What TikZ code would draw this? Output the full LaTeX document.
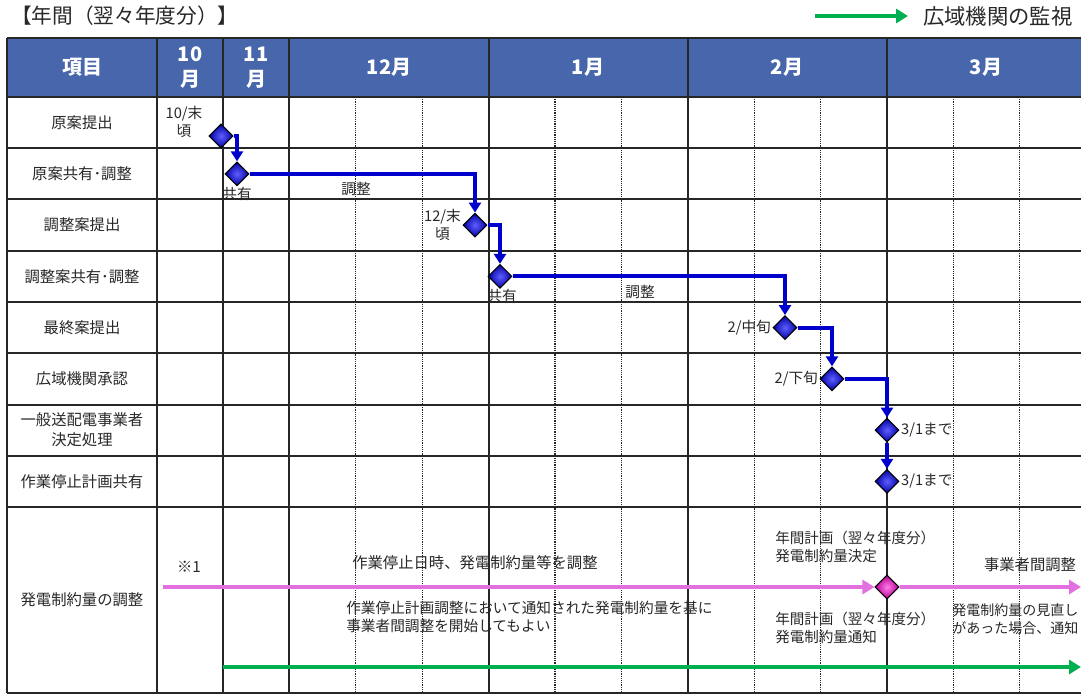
\documentclass[tikz,border=0pt]{standalone}
\usepackage{fontspec}
\setmainfont{Noto Sans CJK JP}
\usetikzlibrary{arrows.meta,shapes.geometric}
\definecolor{hdrblue}{RGB}{72,102,172}
\definecolor{flowblue}{RGB}{0,0,205}
\definecolor{msin}{RGB}{95,95,255}
\definecolor{msout}{RGB}{0,0,165}
\definecolor{pinkline}{RGB}{226,112,222}
\definecolor{pkin}{RGB}{255,125,235}
\definecolor{pkout}{RGB}{180,0,145}
\definecolor{grn}{RGB}{0,176,80}
\definecolor{txt}{RGB}{40,40,40}
\tikzset{
  gridl/.style={line width=1.5pt, draw=black!85},
  dotl/.style={line width=0.9pt, draw=black!85, dash pattern=on 0.9pt off 0.75pt},
  hdr/.style={text=white, font=\fontsize{15}{18.5}\selectfont\bfseries, align=center, inner sep=0pt},
  rowlab/.style={text=txt, font=\fontsize{11.5}{15}\selectfont, align=center, inner sep=0pt},
  lab/.style={text=txt, font=\fontsize{11}{14}\selectfont, align=center, inner sep=1pt},
  note/.style={text=txt, font=\fontsize{11.5}{14}\selectfont, align=left, inner sep=0pt},
  ms/.style={diamond, draw=black, line width=0.8pt, minimum width=18pt, minimum height=18pt, inner sep=0pt, inner color=msin, outer color=msout},
  pms/.style={diamond, draw=black, line width=0.8pt, minimum width=18pt, minimum height=18pt, inner sep=0pt, inner color=pkin, outer color=pkout},
  flow/.style={draw=flowblue, line width=3pt, -{Triangle[length=7.5pt,width=9pt]}},
  pinkflow/.style={draw=pinkline, line width=3pt, -{Triangle[length=9pt,width=10.5pt]}},
  greenflow/.style={draw=grn, line width=3pt, -{Triangle[length=9pt,width=10.5pt]}},
}
\begin{document}
\begin{tikzpicture}[x=0.75pt,y=-0.75pt]
\useasboundingbox (0,0) rectangle (1081,695);
\fill[white] (0,0) rectangle (1081,695);

% title and legend
\node[anchor=west, text=txt, font=\fontsize{15.5}{18}\selectfont, inner sep=0pt] (title) at (11,16) {【年間（翌々年度分）】};
\node[anchor=west, text=txt, font=\fontsize{16}{19}\selectfont, inner sep=0pt] (legtxt) at (923,16) {広域機関の監視};
\coordinate (lga) at (815,16);
\coordinate (lgb) at (908,16);
\draw[greenflow] (lga) -- (lgb);

% header band
\fill[hdrblue] (7,38) rectangle (1081,97);
\node[hdr] (h0) at (82,67.5) {項目};
\node[hdr] (h1) at (190,67.5) {10\\月};
\node[hdr] (h2) at (256,67.5) {11\\月};
\node[hdr] (h3) at (389,67.5) {12月};
\node[hdr] (h4) at (588,67.5) {1月};
\node[hdr] (h5) at (787,67.5) {2月};
\node[hdr] (h6) at (986,67.5) {3月};

% grid
\foreach \x in {355.8,422.2,555,621.4,754.2,820.6,953.4,1019.8}
  \draw[dotl] (\x,97) -- (\x,693);
\foreach \y in {38,97,148.25,199.5,250.75,302,353.25,404.5,455.75,507,693}
  \draw[gridl] (7,\y) -- (1081,\y);
\foreach \x in {7,156.6,223,289.4,488.6,687.8,887}
  \draw[gridl] (\x,38) -- (\x,693);

% row labels
\node[rowlab] (r1) at (82,122.6) {原案提出};
\node[rowlab] (r2) at (82,173.9) {原案共有･調整};
\node[rowlab] (r3) at (82,225.1) {調整案提出};
\node[rowlab] (r4) at (82,276.4) {調整案共有･調整};
\node[rowlab] (r5) at (82,327.6) {最終案提出};
\node[rowlab] (r6) at (82,378.9) {広域機関承認};
\node[rowlab] (r7) at (82,430.1) {一般送配電事業者\\決定処理};
\node[rowlab] (r8) at (82,481.4) {作業停止計画共有};
\node[rowlab] (r9) at (82,600) {発電制約量の調整};

% milestones
\node[ms] (d1) at (221,136) {};
\node[ms] (d2) at (237,173.9) {};
\node[ms] (d3) at (475,225.1) {};
\node[ms] (d4) at (500,276.4) {};
\node[ms] (d5) at (785,327.6) {};
\node[ms] (d6) at (832,378.9) {};
\node[ms] (d7) at (887,430.1) {};
\node[ms] (d8) at (887,481.4) {};

\draw[flow] (d1.east) -| (d2.north);
\draw[flow] (d2.east) -| (d3.north);
\draw[flow] (d3.east) -| (d4.north);
\draw[flow] (d4.east) -| (d5.north);
\draw[flow] (d5.east) -| (d6.north);
\draw[flow] (d6.east) -| (d7.north);
\draw[flow] (d7.south) -- (d8.north);

% milestone labels
\node[lab] (l1) at (184,122) {10/末\\頃};
\node[lab] (l2) at (237,194) {共有};
\node[lab] (l3) at (356,189) {調整};
\node[lab, anchor=east] (l4) at (d3.west) {12/末\\頃};
\node[lab] (l5) at (502,296) {共有};
\node[lab] (l6) at (640,292) {調整};
\node[lab, anchor=east] (l7) at (d5.west) {2/中旬};
\node[lab, anchor=east] (l8) at (d6.west) {2/下旬};
\node[lab, anchor=west] (l9) at (d7.east) {3/1まで};
\node[lab, anchor=west] (l10) at (d8.east) {3/1まで};

% generation constraint row
\node[pms] (pd) at (887,587) {};
\coordinate (ps) at (163,587);
\coordinate (pe) at (1081,587);
\draw[pinkflow] (ps) -- (pd.west);
\draw[pinkflow] (pd.east) -- (pe);
\coordinate (gs) at (223,667);
\coordinate (ge) at (1081,667);
\draw[greenflow] (gs) -- (ge);

\node[note] (n0) at (189,567) {※1};
\node[note, anchor=west] (n1) at (352,563) {作業停止日時、発電制約量等を調整};
\node[note, anchor=west, font=\fontsize{11}{13.5}\selectfont] (n2) at (346,617) {作業停止計画調整において通知された発電制約量を基に\\事業者間調整を開始してもよい};
\node[note, anchor=west, font=\fontsize{10.9}{13.5}\selectfont] (n3) at (775,547) {年間計画（翌々年度分）\\発電制約量決定};
\node[note] (n4) at (1030,565) {事業者間調整};
\node[note, anchor=west, font=\fontsize{10.9}{13.5}\selectfont] (n5) at (775,628) {年間計画（翌々年度分）\\発電制約量通知};
\node[note, anchor=west, font=\fontsize{10.5}{13.5}\selectfont] (n6) at (952,619) {発電制約量の見直し\\があった場合、通知};
\end{tikzpicture}
\end{document}
